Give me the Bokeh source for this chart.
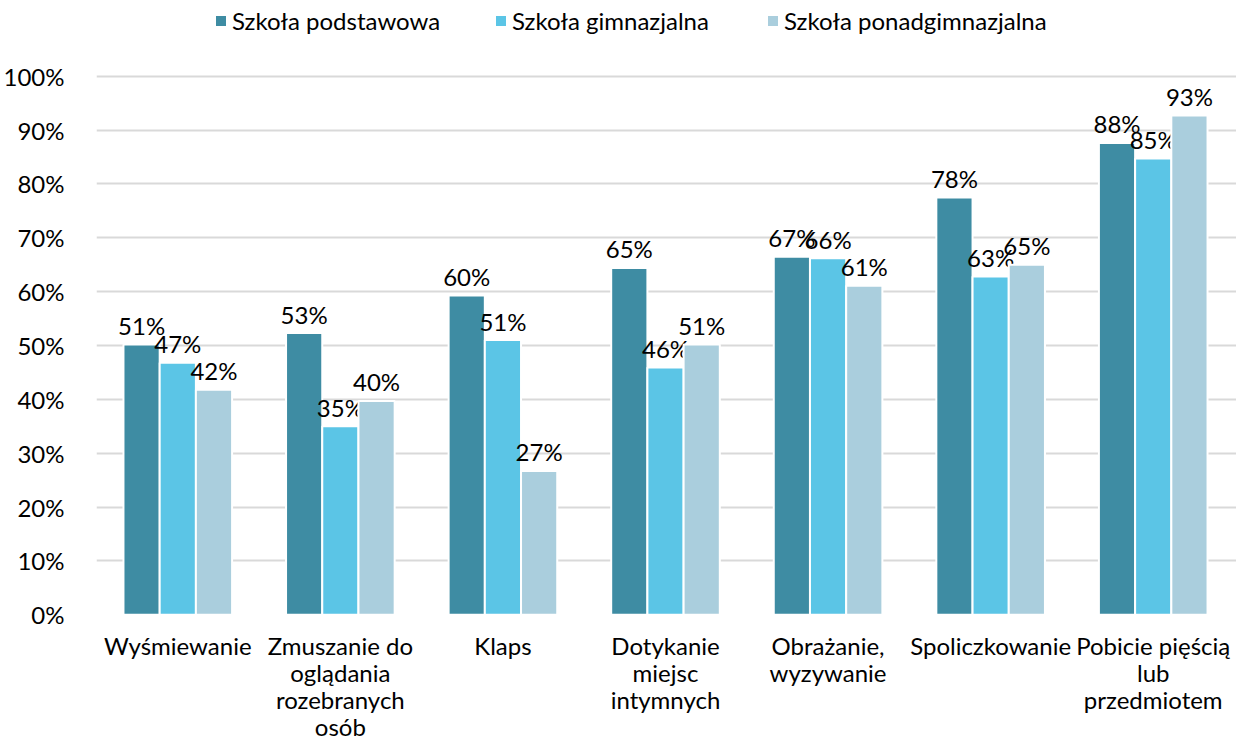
from bokeh.plotting import figure
from bokeh.models import Range1d, FixedTicker, Legend, LegendItem, ColumnDataSource
from bokeh.core.properties import value
from bokeh.embed import file_html
from bokeh.resources import INLINE

categories = [
    "Wyśmiewanie",
    "Zmuszanie do\noglądania\nrozebranych\nosób",
    "Klaps",
    "Dotykanie\nmiejsc\nintymnych",
    "Obrażanie,\nwyzywanie",
    "Spoliczkowanie",
    "Pobicie pięścią\nlub\nprzedmiotem",
]
series_names = ["Szkoła podstawowa", "Szkoła gimnazjalna", "Szkoła ponadgimnazjalna"]
podstawowa = [50.2, 52.3, 59.3, 64.4, 66.5, 77.5, 87.6]
gimnazjalna = [46.8, 35.0, 51.0, 45.9, 66.2, 62.8, 84.7]
ponadgimnazjalna = [41.8, 39.7, 26.7, 50.2, 61.1, 65.0, 92.7]
labels_podstawowa = ["51%", "53%", "60%", "65%", "67%", "78%", "88%"]
labels_gimnazjalna = ["47%", "35%", "51%", "46%", "66%", "63%", "85%"]
labels_ponadgimnazjalna = ["42%", "40%", "27%", "51%", "61%", "65%", "93%"]
y_ticks = [0, 10, 20, 30, 40, 50, 60, 70, 80, 90, 100]

colors = ["#3E8CA3", "#5BC5E6", "#AACEDD"]
FONT = "Lato"
FS = "24px"

W, H = 1236, 742
LEFT = 93
CAT_PX = 163.0
px_per_unit = 5.386
top_px = 75.7
y_top = 100 + top_px / px_per_unit
y_bottom = -(H - top_px - 100 * px_per_unit) / px_per_unit

p = figure(width=W, height=H, output_backend="svg", toolbar_location=None,
           x_range=Range1d(0, (W - LEFT) / CAT_PX), y_range=Range1d(y_bottom, y_top),
           min_border_left=LEFT, min_border_right=0, min_border_top=0, min_border_bottom=0)
p.outline_line_color = None
p.background_fill_color = "white"

p.xgrid.grid_line_color = None
p.ygrid.ticker = FixedTicker(ticks=y_ticks[1:])
p.ygrid.grid_line_color = "#D9D9D9"
p.ygrid.grid_line_width = 2

centers = [i + 0.5 for i in range(len(categories))]
offset = 0.2227
series = [podstawowa, gimnazjalna, ponadgimnazjalna]
label_sets = [labels_podstawowa, labels_gimnazjalna, labels_ponadgimnazjalna]

renderers = []
for k, (vals, labs, col) in enumerate(zip(series, label_sets, colors)):
    xs = [c + (k - 1) * offset for c in centers]
    src = ColumnDataSource(dict(x=xs, top=vals, lab=labs))
    r = p.vbar(x="x", top="top", bottom=0, width=offset, source=src,
               fill_color=col, line_color="white", line_width=2)
    renderers.append(r)
    p.text(x="x", y="top", text="lab", source=src, text_align="center",
           text_baseline="alphabetic", y_offset=-19, text_color="#000000",
           text_font=value(FONT), text_font_size=FS)

# Category labels (drawn under the baseline)
cx, cy, ct, coff = [], [], [], []
for c, cat in zip(centers, categories):
    for j, line in enumerate(cat.split("\n")):
        cx.append(c); cy.append(0); ct.append(line); coff.append(31 + 27 * j)
p.text(x=cx, y=cy, text=ct, y_offset=coff, text_align="center", text_baseline="middle",
       text_color="#000000", text_font=value(FONT), text_font_size=FS)

# Legends (one per series, at the top)
leg_x = [117, 397, 669]
for r, name, lx in zip(renderers, series_names, leg_x):
    lg = Legend(items=[LegendItem(label=name, renderers=[r])], location=(lx, H - 35),
                orientation="horizontal", padding=0, margin=0, spacing=0,
                glyph_width=15, glyph_height=15, label_standoff=4,
                label_text_font=FONT, label_text_font_size=FS, label_text_color="#000000",
                border_line_color=None, background_fill_alpha=0)
    p.add_layout(lg, "center")

# Y axis
p.yaxis.ticker = FixedTicker(ticks=y_ticks)
p.yaxis.major_label_overrides = {t: f"{t}%" for t in y_ticks}
p.yaxis.axis_line_color = None
p.yaxis.major_tick_line_color = None
p.yaxis.minor_tick_line_color = None
p.yaxis.major_label_standoff = 26
p.yaxis.major_label_text_font = FONT
p.yaxis.major_label_text_font_size = FS
p.yaxis.major_label_text_color = "#000000"

p.xaxis.visible = False

open("out.html", "w").write(file_html(p, INLINE))
